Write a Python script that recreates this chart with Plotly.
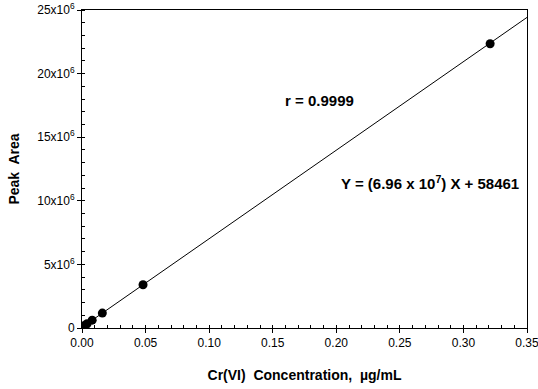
import plotly.graph_objects as go

conc = [0.001, 0.002, 0.004, 0.008, 0.016, 0.048, 0.321]
area = [128000, 197000, 337000, 615000, 1170000, 3400000, 22350000]
slope = 6.96e7
intercept = 58461
line_x = [0.0, 0.35]
line_y = [slope * x + intercept for x in line_x]

xticks = [0, 0.05, 0.10, 0.15, 0.20, 0.25, 0.30, 0.35]
xticklabels = ["0.00", "0.05", "0.10", "0.15", "0.20", "0.25", "0.30", "0.35"]
yticks = [0, 5e6, 10e6, 15e6, 20e6, 25e6]
yticklabels = ["0", "5x10<sup>6</sup>", "10x10<sup>6</sup>", "15x10<sup>6</sup>",
               "20x10<sup>6</sup>", "25x10<sup>6</sup>"]

font = "Liberation Sans, Arial, sans-serif"

fig = go.Figure()
fig.add_trace(go.Scatter(x=line_x, y=line_y, mode="lines",
                         line=dict(color="black", width=1), showlegend=False))
fig.add_trace(go.Scatter(x=conc, y=area, mode="markers",
                         marker=dict(color="black", size=9), showlegend=False))

fig.add_annotation(x=0.187, y=17.85e6, text="<b>r = 0.9999</b>", showarrow=False,
                   font=dict(size=15, color="black", family=font))
fig.add_annotation(x=0.2737, y=11.4e6, text="<b>Y = (6.96 x 10<sup>7</sup>) X + 58461</b>",
                   showarrow=False, font=dict(size=15, color="black", family=font))

fig.update_layout(
    width=538, height=389,
    margin=dict(l=82, r=11, t=10, b=61),
    paper_bgcolor="white", plot_bgcolor="white",
    font=dict(family=font, color="black", size=12),
    xaxis=dict(range=[0, 0.35], tickvals=xticks, ticktext=xticklabels,
               automargin=False, ticklabeloverflow="allow",
               showgrid=False, zeroline=False, showline=True, linecolor="black",
               linewidth=1, mirror=True, ticks="outside", ticklen=4, tickcolor="black",
               minor=dict(dtick=0.01, ticks="inside", ticklen=3, tickcolor="black", showgrid=False),
               title=dict(text="<b>Cr(VI)  Concentration,  µg/mL</b>", font=dict(size=14), standoff=20)),
    yaxis=dict(range=[0, 25e6], tickvals=yticks, ticktext=yticklabels,
               automargin=False, ticklabeloverflow="allow",
               showgrid=False, zeroline=False, showline=True, linecolor="black",
               linewidth=1, mirror=True, ticks="outside", ticklen=4, tickcolor="black",
               minor=dict(dtick=1e6, ticks="inside", ticklen=3, tickcolor="black", showgrid=False),
               title=dict(text="<b>Peak  Area</b>", font=dict(size=14), standoff=14)),
)

fig.write_html("out.html")
